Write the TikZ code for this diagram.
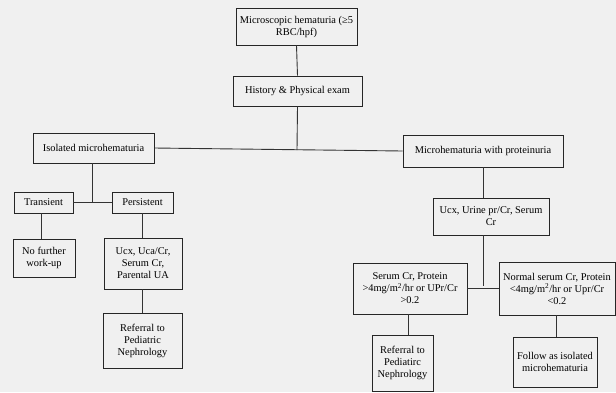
\documentclass[tikz,border=0pt]{standalone}
\usepackage{fontspec}
\setmainfont{Liberation Serif}
\begin{document}
\begin{tikzpicture}[x=1pt,y=-1pt,
  box/.style={draw=black!85, line width=0.9pt, align=center, inner sep=1pt,
    font=\fontsize{10.4}{12}\selectfont, text=black},
  conn/.style={draw=black!80, line width=0.9pt}]
\fill[white!94!black] (0,0) rectangle (616,392);
\useasboundingbox (0,0) rectangle (616,392);
\node[box, minimum width=121, minimum height=37] (micro) at (296.5,26.5) {Microscopic hematuria (≥5\\RBC/hpf)};
\node[box, minimum width=129, minimum height=30] (hist) at (297.5,91) {History \& Physical exam};
\node[box, minimum width=121, minimum height=30] (iso) at (93.5,148) {Isolated microhematuria};
\node[box, minimum width=160, minimum height=32] (prot) at (483,151) {Microhematuria with proteinuria};
\node[box, minimum width=59, minimum height=21] (trans) at (43.5,202.5) {Transient};
\node[box, minimum width=61, minimum height=21] (pers) at (142.5,202.5) {Persistent};
\node[box, minimum width=62, minimum height=38] (nofur) at (44,258) {No further\\work-up};
\node[box, minimum width=78, minimum height=51] (ucxa) at (143,263.5) {Ucx, Uca/Cr,\\Serum Cr,\\Parental UA};
\node[box, minimum width=79, minimum height=55] (refa) at (142.5,340.5) {Referral to\\Pediatric\\Nephrology};
\node[box, minimum width=116, minimum height=37] (ucxb) at (491,216.5) {Ucx, Urine pr/Cr, Serum\\Cr};
\node[box, minimum width=114, minimum height=51] (serum) at (410,288.5) {Serum Cr, Protein\\>4mg/m\textsuperscript{2}/hr or UPr/Cr\\>0.2};
\node[box, minimum width=116, minimum height=53] (norm) at (557,288.5) {Normal serum Cr, Protein\\<4mg/m\textsuperscript{2}/hr or Upr/Cr\\<0.2};
\node[box, minimum width=61, minimum height=56] (refb) at (402.5,363) {Referral to\\Pediatirc\\Nephrology};
\node[box, minimum width=84, minimum height=50] (follow) at (555,362) {Follow as isolated\\microhematuria};
% connectors
\coordinate (j1) at (297,150);
\coordinate (j2) at (92,202.5);
\coordinate (j3) at (483,286);
\draw[conn] (micro.south) -- (hist.north);
\draw[conn] (iso.east) -- (prot.west);
\draw[conn] (hist.south) -- (j1);
\draw[conn] (trans.east) -- (pers.west);
\draw[conn] (iso.south -| j2) -- (j2);
\draw[conn] (trans.south -| 41,0) -- (nofur.north -| 41,0);
\draw[conn] (pers.south) -- (ucxa.north -| pers.south);
\draw[conn] (ucxa.south -| refa.north) -- (refa.north);
\draw[conn] (prot.south) -- (prot.south |- ucxb.north);
\draw[conn] (ucxb.south -| j3) -- (j3);
\draw[conn] (serum.east) -- (norm.west);
\draw[conn] (serum.south -| 408,0) -- (refb.north -| 408,0);
\draw[conn] (norm.south -| 556,0) -- (follow.north -| 556,0);
\end{tikzpicture}
\end{document}
